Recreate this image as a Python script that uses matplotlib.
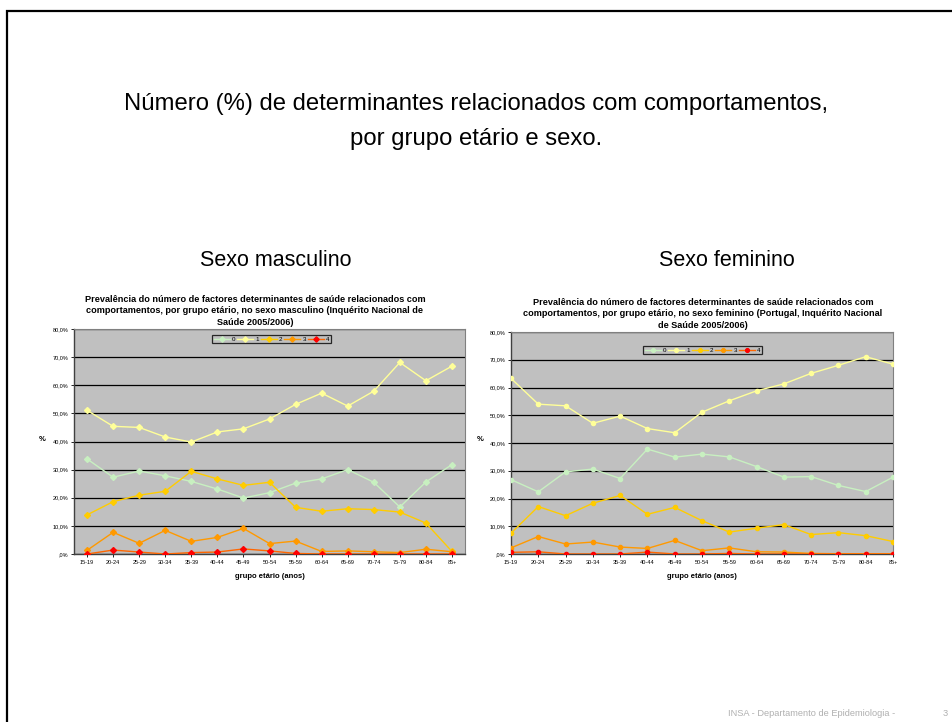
import numpy as np
import matplotlib
matplotlib.use("Agg")
import matplotlib.pyplot as plt
from matplotlib.patches import Rectangle

plt.rcParams['font.family'] = ['Liberation Sans', 'DejaVu Sans']

# grupos etarios
grupos = ["15-19", "20-24", "25-29", "30-34", "35-39", "40-44", "45-49", "50-54",
          "55-59", "60-64", "65-69", "70-74", "75-79", "80-84", "85+"]
series_nomes = ["0", "1", "2", "3", "4"]

# sexo masculino (%)
masc_0 = [33.8, 27.3, 29.5, 27.8, 25.8, 23.1, 19.9, 21.8, 25.2, 26.7, 30.0, 25.5, 16.7, 25.6, 31.8]
masc_1 = [51.1, 45.4, 45.0, 41.6, 39.8, 43.4, 44.5, 48.0, 53.2, 57.2, 52.6, 57.9, 68.1, 61.6, 66.8]
masc_2 = [13.9, 18.6, 20.9, 22.3, 29.4, 26.7, 24.4, 25.5, 16.6, 15.2, 16.1, 15.8, 14.9, 11.0, 0.9]
masc_3 = [1.3, 7.7, 3.8, 8.4, 4.5, 5.9, 9.1, 3.7, 4.6, 0.9, 1.1, 0.8, 0.5, 1.7, 0.8]
masc_4 = [0.0, 1.4, 0.7, 0.0, 0.5, 0.7, 1.8, 1.1, 0.2, 0.0, 0.0, 0.0, 0.0, 0.0, 0.0]

# sexo feminino (%)
fem_0 = [26.8, 22.4, 29.6, 30.6, 27.2, 37.8, 34.9, 36.0, 35.0, 31.5, 27.7, 27.9, 24.7, 22.5, 27.7]
fem_1 = [63.3, 54.0, 53.4, 47.1, 49.7, 45.2, 43.7, 51.1, 55.2, 58.8, 61.3, 65.1, 68.0, 71.1, 68.4]
fem_2 = [7.5, 17.1, 13.8, 18.3, 21.1, 14.3, 16.8, 12.0, 7.9, 9.3, 10.6, 7.0, 7.7, 6.6, 4.5]
fem_3 = [2.2, 6.3, 3.6, 4.3, 2.5, 2.0, 4.9, 1.2, 2.2, 0.8, 0.7, 0.2, 0.1, 0.1, 0.1]
fem_4 = [0.6, 0.8, 0.0, 0.0, 0.0, 0.7, 0.0, 0.0, 0.2, 0.0, 0.0, 0.0, 0.0, 0.0, 0.0]

cores_linha = ["#c8f0c0", "#ffff99", "#ffcc00", "#ff9900", "#ff6600"]
cores_marc = ["#c8f0c0", "#ffff99", "#ffcc00", "#ff9900", "#ff0000"]

W, H = 953, 722
fig = plt.figure(figsize=(W / 100, H / 100), dpi=100)

def box(x0, y0, x1, y1):
    return [x0 / W, 1 - y1 / H, (x1 - x0) / W, (y1 - y0) / H]

def grafico(rect, dados, marcador, xlim, titulo, titulo_x, leg_box, ylab_x):
    ax = fig.add_axes(box(*rect))
    ax.set_facecolor("#c0c0c0")
    x = np.arange(len(grupos))
    for i, serie in enumerate(dados):
        ax.plot(x, serie, color=cores_linha[i], marker=marcador, markersize=3,
                markerfacecolor=cores_marc[i], markeredgecolor=cores_marc[i],
                linewidth=1.0, label=series_nomes[i], zorder=3 + i)
    ax.set_ylim(0, 80)
    ax.set_xlim(*xlim)
    yt = np.arange(0, 81, 10)
    ax.set_yticks(yt)
    ax.set_yticklabels([",0%"] + ["%d,0%%" % v for v in yt[1:]], fontsize=4)
    ax.set_xticks(x)
    ax.set_xticklabels(grupos, fontsize=4)
    ax.tick_params(axis="both", length=2, width=0.6, pad=2)
    ax.grid(axis="y", color="black", linewidth=0.9)
    ax.set_axisbelow(True)
    for s in ["top", "right"]:
        ax.spines[s].set_color("#808080")
        ax.spines[s].set_linewidth(0.8)
    for s in ["left", "bottom"]:
        ax.spines[s].set_color("#404040")
        ax.spines[s].set_linewidth(1.0)
    ax.set_xlabel("grupo etário (anos)", fontsize=5.5, fontweight="bold", labelpad=6)
    fig.text(ylab_x / W, 1 - 440 / H, "%", fontsize=5.5, fontweight="bold",
             ha="center", va="center")
    tx = (titulo_x - rect[0]) / (rect[2] - rect[0])
    ax.set_title(titulo, fontsize=6.6, fontweight="bold", pad=3, linespacing=1.35, x=tx)
    lx0, ly0, lx1, ly1 = leg_box
    leg = ax.legend(ncol=5, fontsize=4.5, loc="center",
                    bbox_to_anchor=((lx0 + lx1) / 2 / W, 1 - (ly0 + ly1) / 2 / H),
                    bbox_transform=fig.transFigure, frameon=True, fancybox=False,
                    handlelength=2.6, handletextpad=0.3, columnspacing=0.3,
                    borderpad=0.25, markerscale=0.9)
    leg.get_frame().set_edgecolor("black")
    leg.get_frame().set_linewidth(0.9)
    leg.get_frame().set_facecolor("#c0c0c0")
    return ax

grafico((74, 329, 465, 554), [masc_0, masc_1, masc_2, masc_3, masc_4], "D", (-0.5, 14.5),
        "Prevalência do número de factores determinantes de saúde relacionados com\n"
        "comportamentos, por grupo etário, no sexo masculino (Inquérito Nacional de\n"
        "Saúde 2005/2006)", 255, (217, 334, 326, 344), 42)

grafico((511, 332, 893, 554), [fem_0, fem_1, fem_2, fem_3, fem_4], "o", (0, 14),
        "Prevalência do número de factores determinantes de saúde relacionados com\n"
        "comportamentos, por grupo etário, no sexo feminino (Portugal, Inquérito Nacional\n"
        "de Saúde 2005/2006)", 703, (648, 345, 757, 355), 480)

# textos do diapositivo
fig.text(476 / W, 1 - 104 / H, "Número (%) de determinantes relacionados com comportamentos,",
         fontsize=17.2, ha="center", va="center")
fig.text(476 / W, 1 - 139 / H, "por grupo etário e sexo.", fontsize=17.2, ha="center",
         va="center")
fig.text(276 / W, 1 - 261 / H, "Sexo masculino", fontsize=15.5, ha="center", va="center")
fig.text(727 / W, 1 - 261 / H, "Sexo feminino", fontsize=15.5, ha="center", va="center")
fig.text(895 / W, 1 - 713 / H, "INSA - Departamento de Epidemiologia -", fontsize=6.7,
         color="#b0b0b0", ha="right", va="center")
fig.text(943 / W, 1 - 713 / H, "3", fontsize=6.7, color="#b0b0b0", ha="left", va="center")

# moldura do diapositivo
fig.patches.append(Rectangle((7 / W, -0.1), 1.2, 1.1 - 11 / H, transform=fig.transFigure,
                             fill=False, edgecolor="black", linewidth=1.6))

fig.savefig("out.png", dpi=100)
